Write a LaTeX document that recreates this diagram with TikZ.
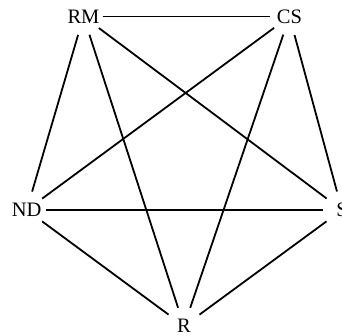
\documentclass[tikz,border=0pt]{standalone}
\usepackage{fontspec}
\setmainfont{Liberation Serif}
\usepackage{tikz}
\tikzset{
  edge/.style={black,line width=1.8pt},
  vertex/.style={circle,minimum size=38pt,inner sep=0pt,font=\fontsize{20.5}{24}\selectfont},
}
\begin{document}
\begin{tikzpicture}[x=1pt,y=1pt]
  \useasboundingbox (0,0) rectangle (342,336);
  \node[vertex] (rm) at (83.5,319.5) {RM};
  \node[vertex] (cs) at (289.5,319.5) {CS};
  \node[vertex] (nd) at (26.7,126) {ND};
  \node[vertex] (s)  at (342,126) {S};
  \node[vertex] (r)  at (184,10) {R};

  \draw[edge] (rm) -- (cs);
  \draw[edge] (rm) -- (nd);
  \draw[edge] (rm) -- (r);
  \draw[edge] (rm) -- (s);
  \draw[edge] (cs) -- (nd);
  \draw[edge] (cs) -- (r);
  \draw[edge] (cs) -- (s);
  \draw[edge] (nd) -- (s);
  \draw[edge] (nd) -- (r);
  \draw[edge] (r) -- (s);
\end{tikzpicture}
\end{document}
